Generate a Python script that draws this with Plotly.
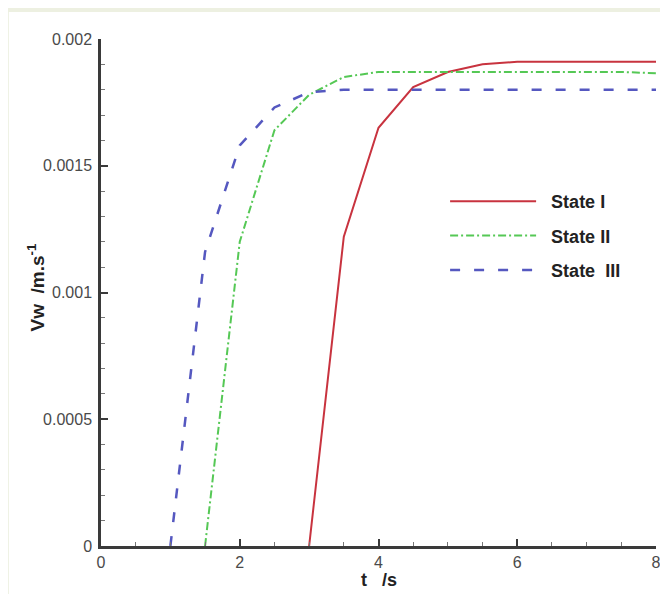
import plotly.graph_objects as go

# ---- data ----
t_state1 = [3.0, 3.5, 4.0, 4.5, 5.0, 5.5, 6.0, 6.5, 7.0, 7.5, 8.0]
v_state1 = [0.0, 0.00122, 0.00165, 0.00181, 0.00187, 0.00190, 0.00191, 0.00191, 0.00191, 0.00191, 0.00191]

t_state2 = [1.5, 2.0, 2.5, 3.0, 3.5, 4.0, 4.5, 5.0, 5.5, 6.0, 6.5, 7.0, 7.5, 8.0]
v_state2 = [0.0, 0.00120, 0.00164, 0.00178, 0.00185, 0.00187, 0.00187, 0.00187, 0.00187, 0.00187, 0.00187, 0.00187, 0.00187, 0.001865]

t_state3 = [1.0, 1.5, 2.0, 2.5, 3.0, 3.5, 4.0, 4.5, 5.0, 5.5, 6.0, 6.5, 7.0, 7.5, 8.0]
v_state3 = [0.0, 0.00116, 0.00158, 0.00173, 0.00179, 0.00180, 0.00180, 0.00180, 0.00180, 0.00180, 0.00180, 0.00180, 0.00180, 0.00180, 0.00180]

series_names = ["State I", "State II", "State  III"]

x_tick_vals = [0, 2, 4, 6, 8]
x_tick_text = ["0", "2", "4", "6", "8"]
y_tick_vals = [0, 0.0005, 0.001, 0.0015, 0.002]
y_tick_text = ["0", "0.0005", "0.001", "0.0015", "0.002"]

x_title = "<b>t   /s</b>"
y_title = "<b>Vw  /m.s<sup>-1</sup></b>"

FONT = "Liberation Sans, Arial, sans-serif"


def legend_label(name):
    return "&nbsp;&nbsp;<b>" + name + "</b>"


fig = go.Figure()
fig.add_trace(go.Scatter(x=t_state1, y=v_state1, mode="lines", name=legend_label(series_names[0]),
                         legendgroup="g1", line=dict(color="#c8333f", width=2)))
fig.add_trace(go.Scatter(x=t_state2, y=v_state2, mode="lines", name=legend_label(series_names[1]),
                         legendgroup="g2", line=dict(color="#55c855", width=2, dash="8px,3px,2px,3px")))
fig.add_trace(go.Scatter(x=t_state3, y=v_state3, mode="lines", name=legend_label(series_names[2]),
                         legendgroup="g3", line=dict(color="#5558c0", width=2.5, dash="10px,14px")))

axis_common = dict(
    showline=True, linecolor="#3a3a3a", linewidth=2.5,
    ticks="inside", ticklen=7, tickwidth=2, tickcolor="#3a3a3a",
    showgrid=False, zeroline=False, automargin=False,
    tickfont=dict(family=FONT, size=16, color="#4a4a4a"),
)

fig.update_xaxes(range=[0, 8], tickmode="array", tickvals=x_tick_vals, ticktext=x_tick_text,
                 minor=dict(dtick=0.5, ticks="inside", ticklen=4, tickwidth=1, tickcolor="#777777"),
                 **axis_common)
fig.update_yaxes(range=[0, 0.002], tickmode="array", tickvals=y_tick_vals, ticktext=y_tick_text,
                 minor=dict(dtick=0.0001, ticks="inside", ticklen=4, tickwidth=1, tickcolor="#777777"),
                 ticklabelstandoff=3,
                 **axis_common)

# axis titles as annotations (precise placement)
fig.add_annotation(text=x_title, xref="paper", yref="paper", x=0.5, y=-0.068,
                   xanchor="center", yanchor="middle", showarrow=False,
                   font=dict(family=FONT, size=18, color="#222222"))
fig.add_annotation(text=y_title, xref="paper", yref="paper", x=-0.117, y=0.51,
                   xanchor="center", yanchor="middle", showarrow=False, textangle=-90,
                   font=dict(family=FONT, size=19, color="#222222"))

# white panel over a pale green page edge
fig.add_shape(type="rect", xref="paper", yref="paper", layer="below",
              x0=-0.166, x1=1.05, y0=-0.12, y1=1.0533,
              fillcolor="white", line=dict(width=0))

fig.update_layout(
    width=660, height=586,
    margin=dict(l=93, r=12, t=31, b=48),
    paper_bgcolor="#edf0e1", plot_bgcolor="white",
    showlegend=True,
    legend=dict(x=0.62, y=0.716, xanchor="left", yanchor="top",
                bgcolor="rgba(0,0,0,0)", itemwidth=86, tracegroupgap=8,
                font=dict(family=FONT, size=18, color="#222222"),
                traceorder="grouped"),
    font=dict(family=FONT),
)

fig.write_html("out.html")
